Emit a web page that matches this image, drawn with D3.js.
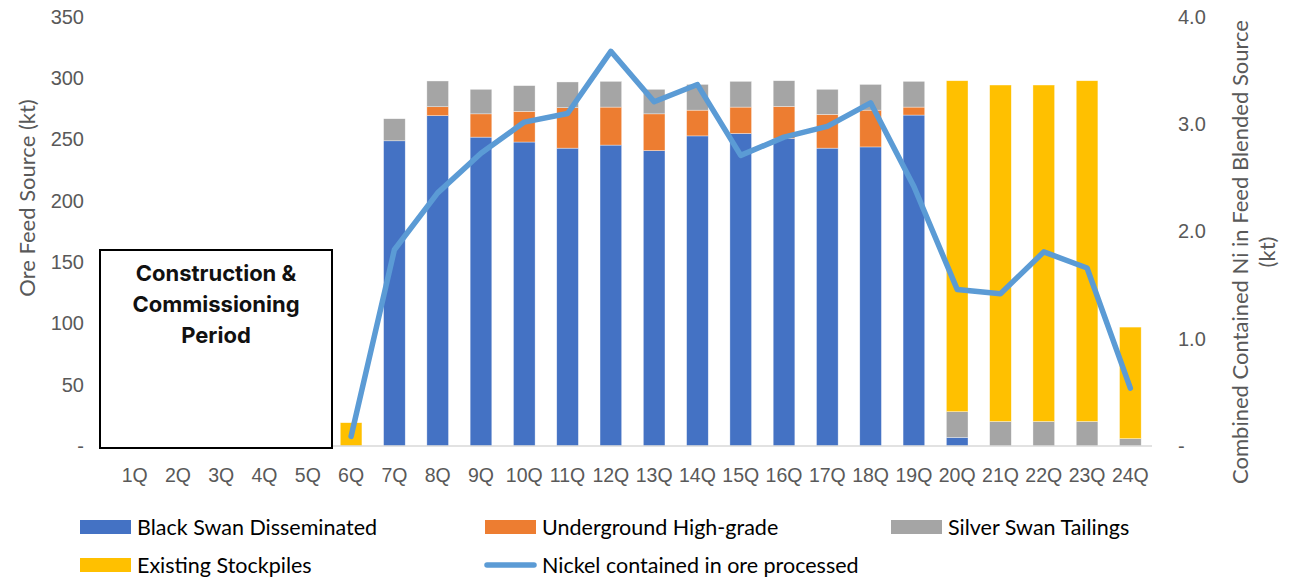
<!DOCTYPE html>
<html>
<head>
<meta charset="utf-8">
<script src="https://cdn.jsdelivr.net/npm/d3@7"></script>
<style>
  body { margin: 0; background: #fff; }
  svg { display: block; font-family: Lato, "Open Sans", sans-serif; }
</style>
</head>
<body>
<div class="graph"></div>
<script>
// Data
const quarters = ['1Q','2Q','3Q','4Q','5Q','6Q','7Q','8Q','9Q','10Q','11Q','12Q',
  '13Q','14Q','15Q','16Q','17Q','18Q','19Q','20Q','21Q','22Q','23Q','24Q'];
const blackSwan   = [0,0,0,0,0,0,249,269.5,252,248,243,245.5,241,253,255,251,243,244,270,7,0,0,0,0];
const underground = [0,0,0,0,0,0,0,7.3,19,25,33,31,30,21,21.5,26,27.5,30,6.5,0,0,0,0,0];
const silverSwan  = [0,0,0,0,0,0,18,21,20,21,21,21,20,21,21,21,20.5,21,21,21,20,20,20,6];
const stockpiles  = [0,0,0,0,0,19,0,0,0,0,0,0,0,0,0,0,0,0,0,270,274.5,274.5,278,91];
const nickel      = [null,null,null,null,null,0.09,1.83,2.36,2.73,3.02,3.10,3.68,3.21,3.37,
  2.71,2.88,2.98,3.20,2.42,1.46,1.42,1.81,1.66,0.54];
const leftTicks = [0,50,100,150,200,250,300,350];
const rightTicks = [0,1,2,3,4];

const seriesNames = ['Black Swan Disseminated','Underground High-grade','Silver Swan Tailings','Existing Stockpiles'];
const colors = ['#4472C4','#ED7D31','#A5A5A5','#FFC000'];
const lineColor = '#5B9BD5';

const W = 1304, H = 577;
const plot = { left: 113, right: 1152, top: 17, bottom: 446 };

const svg = d3.select('.graph').append('svg')
  .attr('width', W).attr('height', H);

// Scales
const x = d3.scaleBand().domain(quarters).range([plot.left, plot.right]).paddingInner(0.5).paddingOuter(0.25);
const yL = d3.scaleLinear().domain([0, 350]).range([plot.bottom, plot.top]);
const yR = d3.scaleLinear().domain([0, 4]).range([plot.bottom, plot.top]);

// Stack
const rows = quarters.map((q, i) => ({ q, s0: blackSwan[i], s1: underground[i], s2: silverSwan[i], s3: stockpiles[i] }));
const stack = d3.stack().keys(['s0','s1','s2','s3'])(rows);

svg.append('g').selectAll('g')
  .data(stack)
  .join('g')
  .attr('fill', (d, i) => colors[i])
  .selectAll('rect')
  .data(d => d.filter(p => p[1] - p[0] > 0))
  .join('rect')
  .attr('x', d => x(d.data.q))
  .attr('width', x.bandwidth())
  .attr('y', d => yL(d[1]))
  .attr('height', d => yL(d[0]) - yL(d[1]))
  .attr('stroke', '#fff')
  .attr('stroke-opacity', 0.6)
  .attr('stroke-width', 0.6);

// Baseline
svg.append('line')
  .attr('x1', plot.left).attr('x2', plot.right)
  .attr('y1', yL(0)).attr('y2', yL(0))
  .attr('stroke', '#D9D9D9').attr('stroke-width', 1.5);

// Left axis
const leftAxis = d3.axisLeft(yL).tickValues(leftTicks)
  .tickFormat(d => d === 0 ? '-' : d).tickSize(0).tickPadding(0);
svg.append('g')
  .attr('transform', 'translate(84,0)')
  .call(leftAxis)
  .call(g => g.select('.domain').remove())
  .selectAll('text').attr('fill', '#595959').attr('font-size', 20);

// Right axis
const rightAxis = d3.axisRight(yR).tickValues(rightTicks)
  .tickFormat(d => d === 0 ? '-' : d3.format('.1f')(d)).tickSize(0).tickPadding(0);
svg.append('g')
  .attr('transform', 'translate(1178,0)')
  .call(rightAxis)
  .call(g => g.select('.domain').remove())
  .selectAll('text').attr('fill', '#595959').attr('font-size', 20);

// X axis labels
const xAxis = d3.axisBottom(x).tickSize(0).tickPadding(0);
svg.append('g')
  .attr('transform', `translate(0,${plot.bottom + 22})`)
  .call(xAxis)
  .call(g => g.select('.domain').remove())
  .selectAll('text').attr('fill', '#595959').attr('font-size', 19.5);

// Axis titles
svg.append('text')
  .attr('transform', 'translate(35,198) rotate(-90)')
  .attr('text-anchor', 'middle')
  .attr('fill', '#595959').attr('font-size', 22)
  .text('Ore Feed Source (kt)');

const rt = svg.append('text')
  .attr('transform', 'translate(1248,252) rotate(-90)')
  .attr('text-anchor', 'middle')
  .attr('fill', '#595959').attr('font-size', 22);
rt.append('tspan').attr('x', 0).attr('dy', 0).text('Combined Contained Ni in Feed Blended Source');
rt.append('tspan').attr('x', 0).attr('dy', 27).text('(kt)');

// Nickel line
const line = d3.line()
  .defined(d => d != null)
  .x((d, i) => x(quarters[i]) + x.bandwidth() / 2)
  .y(d => yR(d));
svg.append('path')
  .datum(nickel)
  .attr('d', line)
  .attr('fill', 'none')
  .attr('stroke', lineColor)
  .attr('stroke-width', 5.5)
  .attr('stroke-linecap', 'round')
  .attr('stroke-linejoin', 'round');

// Construction box
svg.append('rect')
  .attr('x', 100).attr('y', 250)
  .attr('width', 232).attr('height', 198)
  .attr('fill', '#fff').attr('stroke', '#000').attr('stroke-width', 2);
const boxText = svg.append('text')
  .attr('text-anchor', 'middle')
  .attr('font-family', 'Inter, sans-serif')
  .attr('font-weight', 'bold').attr('font-size', 22).attr('fill', '#111');
['Construction  &', 'Commissioning', 'Period'].forEach((t, i) => {
  boxText.append('tspan').attr('x', 216).attr('y', 281 + i * 31).text(t);
});

// Legend
const legendItems = [
  { name: seriesNames[0], color: colors[0], x: 80, y: 527, type: 'rect' },
  { name: seriesNames[1], color: colors[1], x: 485, y: 527, type: 'rect' },
  { name: seriesNames[2], color: colors[2], x: 891, y: 527, type: 'rect' },
  { name: seriesNames[3], color: colors[3], x: 80, y: 565, type: 'rect' },
  { name: 'Nickel contained in ore processed', color: lineColor, x: 485, y: 565, type: 'line' }
];
const lg = svg.append('g').selectAll('g').data(legendItems).join('g')
  .attr('transform', d => `translate(${d.x},${d.y})`);
lg.filter(d => d.type === 'rect').append('rect')
  .attr('x', 0).attr('y', -7).attr('width', 51).attr('height', 14)
  .attr('fill', d => d.color);
lg.filter(d => d.type === 'line').append('line')
  .attr('x1', 2).attr('x2', 49).attr('y1', 0).attr('y2', 0)
  .attr('stroke', d => d.color).attr('stroke-width', 5.5).attr('stroke-linecap', 'round');
lg.append('text')
  .attr('x', 57).attr('dy', '0.35em')
  .attr('font-size', 21.5).attr('fill', '#000')
  .text(d => d.name);
</script>
</body>
</html>
